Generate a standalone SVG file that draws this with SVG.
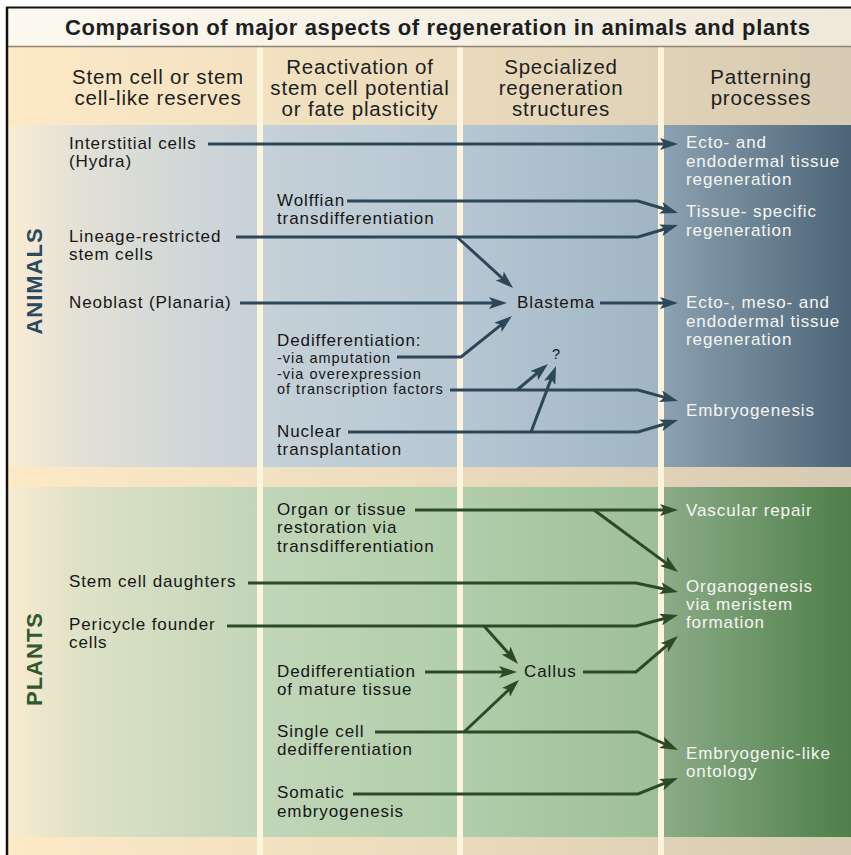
<svg xmlns="http://www.w3.org/2000/svg" width="851" height="855" viewBox="0 0 851 855">
<defs>
<style>
text{font-family:"Liberation Sans",Arial,Helvetica,sans-serif}
.t{font-size:17px;letter-spacing:0.9px;fill:#161616}
.w{font-size:17px;letter-spacing:0.9px;fill:#f6f6f2}
.s{font-size:14.5px;letter-spacing:1px;fill:#161616}
.h{font-size:20.5px;letter-spacing:0.8px;fill:#1e1e1e;text-anchor:middle}
.ti{font-size:22px;font-weight:bold;fill:#1e1e1e}
.side{font-size:22px;font-weight:bold;letter-spacing:1px;text-anchor:middle}
.ca{fill:none;stroke:#2c4757;stroke-width:3;marker-end:url(#ah)}
.cp{fill:none;stroke:#2b4a25;stroke-width:3;marker-end:url(#ap)}
.sep{fill:#fdf4de}
</style>
<marker id="ah" markerUnits="userSpaceOnUse" markerWidth="18" markerHeight="12" refX="12" refY="6" orient="auto"><path d="M0,0 L18,6 L0,12 L4,6 z" fill="#2c4757"/></marker>
<marker id="ap" markerUnits="userSpaceOnUse" markerWidth="18" markerHeight="12" refX="12" refY="6" orient="auto"><path d="M0,0 L18,6 L0,12 L4,6 z" fill="#2b4a25"/></marker>
<linearGradient id="gTitle" gradientUnits="userSpaceOnUse" x1="8" y1="0" x2="851" y2="0"><stop offset="0" stop-color="#fcf9f1"/><stop offset="1" stop-color="#efe9db"/></linearGradient>
<linearGradient id="gBand" gradientUnits="userSpaceOnUse" x1="8" y1="0" x2="851" y2="0"><stop offset="0" stop-color="#fde9c6"/><stop offset="0.5" stop-color="#ecdcbd"/><stop offset="1" stop-color="#d6cab2"/></linearGradient>
<linearGradient id="gAni" gradientUnits="userSpaceOnUse" x1="8" y1="0" x2="658" y2="0"><stop offset="0" stop-color="#faedd4"/><stop offset="0.1" stop-color="#e4e1d6"/><stop offset="0.38" stop-color="#c6d1d8"/><stop offset="0.7" stop-color="#b6c7d3"/><stop offset="1" stop-color="#a1b5c4"/></linearGradient>
<linearGradient id="gAni4" gradientUnits="userSpaceOnUse" x1="658" y1="0" x2="851" y2="0"><stop offset="0" stop-color="#8ea3b3"/><stop offset="1" stop-color="#4b6477"/></linearGradient>
<linearGradient id="gPla" gradientUnits="userSpaceOnUse" x1="8" y1="0" x2="658" y2="0"><stop offset="0" stop-color="#f9ecd2"/><stop offset="0.1" stop-color="#e0e2c6"/><stop offset="0.38" stop-color="#c2d6b9"/><stop offset="0.7" stop-color="#b0cea9"/><stop offset="1" stop-color="#9dbf98"/></linearGradient>
<linearGradient id="gPla4" gradientUnits="userSpaceOnUse" x1="658" y1="0" x2="851" y2="0"><stop offset="0" stop-color="#8dad88"/><stop offset="1" stop-color="#4e7e4a"/></linearGradient>
</defs>

<g id="background">
<rect x="0" y="0" width="851" height="855" fill="#ffffff"/>
<rect x="8" y="8" width="843" height="38" fill="url(#gTitle)"/>
<rect x="8" y="47" width="843" height="78" fill="url(#gBand)"/>
<rect x="8" y="125" width="650" height="342" fill="url(#gAni)"/>
<rect x="658" y="125" width="193" height="342" fill="url(#gAni4)"/>
<rect x="8" y="467" width="843" height="20" fill="url(#gBand)"/>
<rect x="8" y="487" width="650" height="350" fill="url(#gPla)"/>
<rect x="658" y="487" width="193" height="350" fill="url(#gPla4)"/>
<rect x="8" y="837" width="843" height="18" fill="url(#gBand)"/>
<rect class="sep" x="257" y="47" width="6" height="808"/>
<rect class="sep" x="457" y="47" width="6" height="808"/>
<rect class="sep" x="658" y="47" width="6" height="808"/>
<line x1="8" y1="46.5" x2="851" y2="46.5" stroke="#8f8572" stroke-width="1.5"/>
<line x1="6" y1="7.5" x2="851" y2="7.5" stroke="#111" stroke-width="2"/>
<line x1="7" y1="7" x2="7" y2="855" stroke="#111" stroke-width="2.5"/>
</g>

<g id="title">
<text class="ti" x="65" y="35" textLength="745" lengthAdjust="spacing">Comparison of major aspects of regeneration in animals and plants</text>
</g>

<g id="headers">
<text class="h" x="158" y="84">Stem cell or stem</text>
<text class="h" x="158" y="105">cell-like reserves</text>
<text class="h" x="360" y="74">Reactivation of</text>
<text class="h" x="360" y="95">stem cell potential</text>
<text class="h" x="360" y="116">or fate plasticity</text>
<text class="h" x="561" y="74">Specialized</text>
<text class="h" x="561" y="95">regeneration</text>
<text class="h" x="561" y="116">structures</text>
<text class="h" x="761" y="84">Patterning</text>
<text class="h" x="761" y="105">processes</text>
</g>

<g id="side-labels">
<text class="side" transform="translate(42,281) rotate(-90)" fill="#2b4a5e">ANIMALS</text>
<text class="side" transform="translate(42,659) rotate(-90)" fill="#2e5a2c">PLANTS</text>
</g>

<g id="connectors">
<path class="ca" d="M208,144 H672"/>
<path class="ca" d="M347,201 H638 L672.3,211.3"/>
<path class="ca" d="M236,237 H638 L672.3,226.7"/>
<path class="ca" d="M457,237 L508.6,284"/>
<path class="ca" d="M240,303 H501"/>
<path class="ca" d="M600,303 H672"/>
<path class="ca" d="M397,357 H461 L507.3,319.8"/>
<path class="ca" d="M450,390 H638 L672.2,399.4"/>
<path class="ca" d="M517,390 L543.4,367.9"/>
<path class="ca" d="M348,432 H638 L672.3,421.7"/>
<path class="ca" d="M531,432 L553.9,371.6"/>
<path class="cp" d="M415,510 H672"/>
<path class="cp" d="M594,510 L673.2,568.4"/>
<path class="cp" d="M248,583 H636 L672.1,590.7"/>
<path class="cp" d="M227,626 H636 L672.2,616.5"/>
<path class="cp" d="M484,626 L514,659.5"/>
<path class="cp" d="M425,672 H511"/>
<path class="cp" d="M583,672 H636 L673.4,639.9"/>
<path class="cp" d="M375,732 H638 L672.5,747.5"/>
<path class="cp" d="M464,732 L514.6,684.1"/>
<path class="cp" d="M353,794 H638 L672.4,780.2"/>
</g>

<g id="interstitial"><text class="t" x="69" y="149">Interstitial cells</text><text class="t" x="69" y="167">(Hydra)</text></g>
<g id="wolffian"><text class="t" x="277" y="206">Wolffian</text><text class="t" x="277" y="224">transdifferentiation</text></g>
<g id="lineage"><text class="t" x="69" y="242">Lineage-restricted</text><text class="t" x="69" y="260">stem cells</text></g>
<g id="neoblast"><text class="t" x="69" y="308">Neoblast (Planaria)</text></g>
<g id="blastema"><text class="t" x="517" y="308">Blastema</text></g>
<g id="dediff-animal"><text class="t" x="277" y="346">Dedifferentiation:</text><text class="s" x="277" y="362.5">-via amputation</text><text class="s" x="277" y="378.5">-via overexpression</text><text class="s" x="277" y="394">of transcription factors</text></g>
<g id="unknown"><text class="s" x="552" y="359">?</text></g>
<g id="nuclear"><text class="t" x="277" y="437">Nuclear</text><text class="t" x="277" y="455">transplantation</text></g>

<g id="ecto-endo"><text class="w" x="686" y="148">Ecto- and</text><text class="w" x="686" y="167">endodermal tissue</text><text class="w" x="686" y="185">regeneration</text></g>
<g id="tissue-specific"><text class="w" x="686" y="217">Tissue- specific</text><text class="w" x="686" y="236">regeneration</text></g>
<g id="ecto-meso-endo"><text class="w" x="686" y="308">Ecto-, meso- and</text><text class="w" x="686" y="327">endodermal tissue</text><text class="w" x="686" y="345">regeneration</text></g>
<g id="embryogenesis"><text class="w" x="686" y="416">Embryogenesis</text></g>

<g id="organ-tissue"><text class="t" x="277" y="515">Organ or tissue</text><text class="t" x="277" y="533">restoration via</text><text class="t" x="277" y="552">transdifferentiation</text></g>
<g id="vascular"><text class="w" x="686" y="516">Vascular repair</text></g>
<g id="stem-daughters"><text class="t" x="69" y="587">Stem cell daughters</text></g>
<g id="organogenesis"><text class="w" x="686" y="592">Organogenesis</text><text class="w" x="686" y="610">via meristem</text><text class="w" x="686" y="628">formation</text></g>
<g id="pericycle"><text class="t" x="69" y="630">Pericycle founder</text><text class="t" x="69" y="648">cells</text></g>
<g id="dediff-plant"><text class="t" x="277" y="677">Dedifferentiation</text><text class="t" x="277" y="695">of mature tissue</text></g>
<g id="callus"><text class="t" x="524" y="677">Callus</text></g>
<g id="single-cell"><text class="t" x="277" y="737">Single cell</text><text class="t" x="277" y="755">dedifferentiation</text></g>
<g id="embryogenic"><text class="w" x="686" y="759">Embryogenic-like</text><text class="w" x="686" y="777">ontology</text></g>
<g id="somatic"><text class="t" x="277" y="798">Somatic</text><text class="t" x="277" y="817">embryogenesis</text></g>
</svg>
